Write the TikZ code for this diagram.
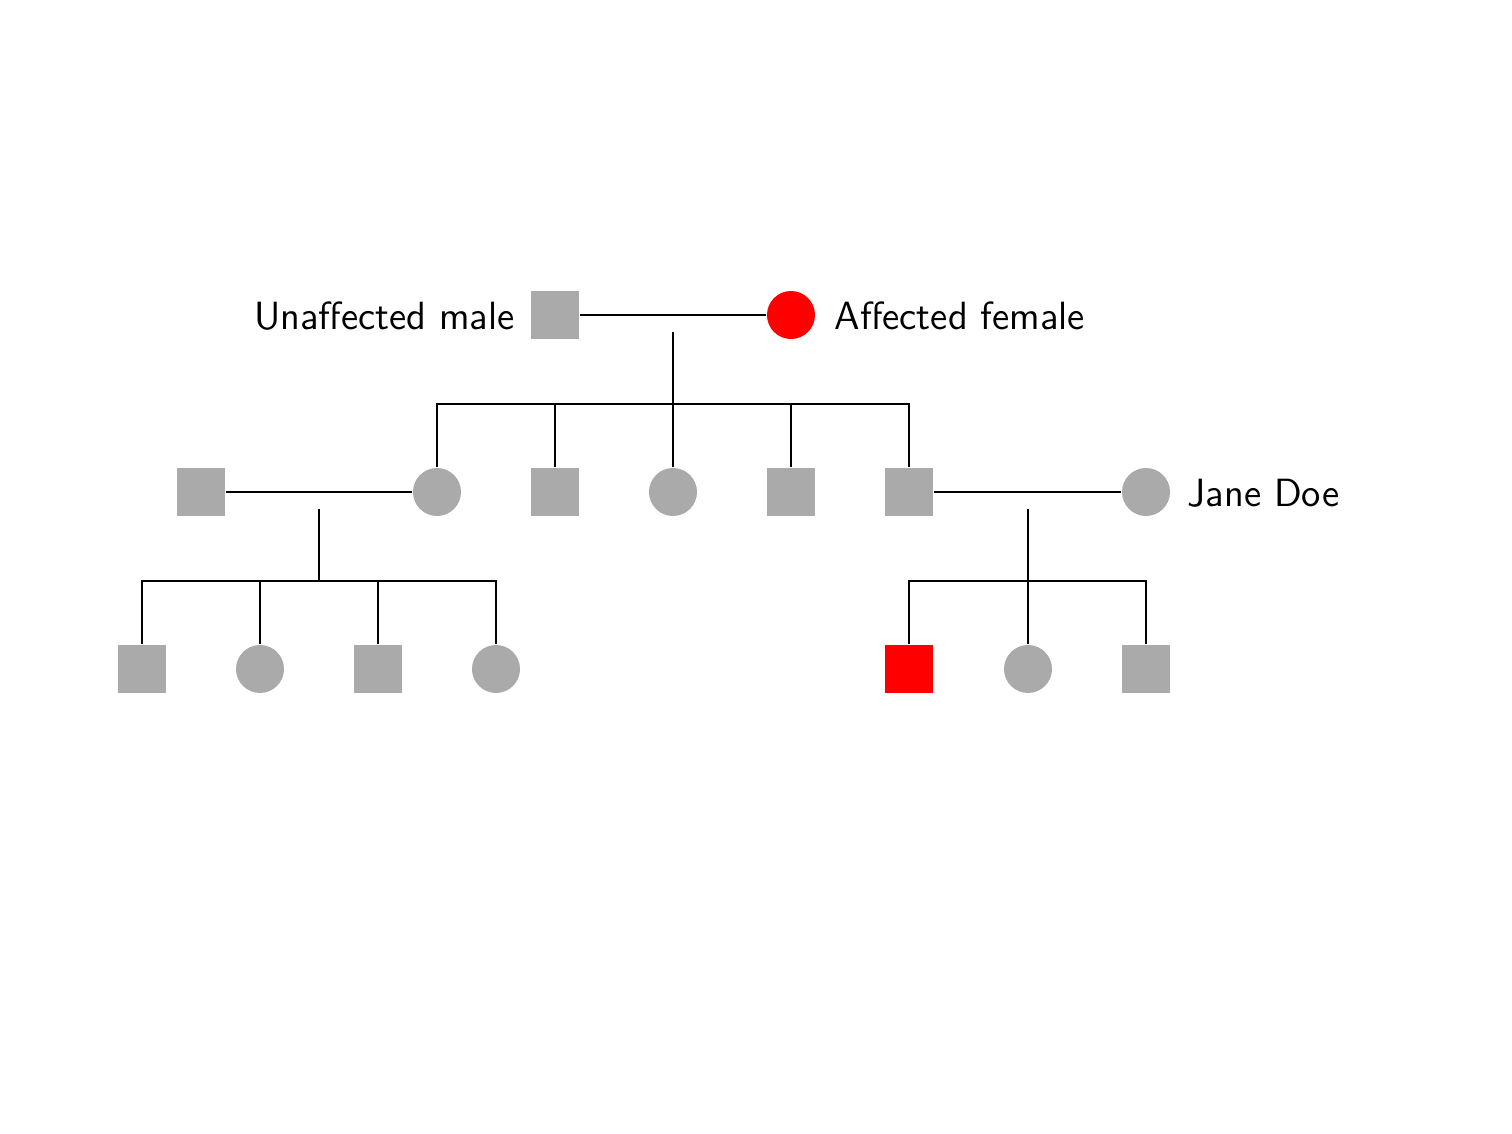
\documentclass[tikz,border=0pt]{standalone}
\usetikzlibrary{positioning}
\definecolor{unaff}{RGB}{170,170,170}
\definecolor{aff}{RGB}{255,0,0}
\tikzset{
  male/.style={rectangle, fill=unaff, minimum size=0.48cm, inner sep=0pt},
  female/.style={circle, fill=unaff, minimum size=0.48cm, inner sep=0pt},
  affected/.style={fill=aff},
  link/.style={line width=0.6pt, black},
  lbl/.style={inner sep=0pt, font=\sffamily\fontsize{11.2}{13.5}\selectfont}
}
\begin{document}
\begin{tikzpicture}[x=0.01cm, y=-0.01cm]
\useasboundingbox (0,0) rectangle (1512,1134);
% generation 1
\node[male] (gf) at (555,315) {};
\node[female, affected] (gm) at (791,315) {};
\node[lbl, anchor=east] (lgf) at (515,316) {Unaffected male};
\node[lbl, anchor=west] (lgm) at (834,316) {Affected female};
% generation 2
\node[male] (sp1) at (201,492) {};
\node[female] (c1) at (437,492) {};
\node[male] (c2) at (555,492) {};
\node[female] (c3) at (673,492) {};
\node[male] (c4) at (791,492) {};
\node[male] (c5) at (909,492) {};
\node[female] (jd) at (1146,492) {};
\node[lbl, anchor=west] (ljd) at (1187,493) {Jane Doe};
% generation 3 left
\node[male] (g1) at (142,669) {};
\node[female] (g2) at (260,669) {};
\node[male] (g3) at (378,669) {};
\node[female] (g4) at (496,669) {};
% generation 3 right
\node[male, affected] (h1) at (909,669) {};
\node[female] (h2) at (1028,669) {};
\node[male] (h3) at (1146,669) {};
% coordinates
\coordinate (d1) at (673,332);
\coordinate (s1) at (673,404);
\coordinate (d2) at (319,509);
\coordinate (s2) at (319,581);
\coordinate (d3) at (1028,509);
\coordinate (s3) at (1028,581);
% marriages
\draw[link] (gf) -- (gm);
\draw[link] (sp1) -- (c1);
\draw[link] (c5) -- (jd);
% descent
\draw[link] (d1) -- (s1);
\draw[link] (d2) -- (s2);
\draw[link] (d3) -- (s3);
% sibships
\draw[link] (c1.north) |- (s1) -| (c5.north);
\draw[link] (c2.north) -- (c2.north |- s1);
\draw[link] (c3.north) -- (c3.north |- s1);
\draw[link] (c4.north) -- (c4.north |- s1);
\draw[link] (g1.north) |- (s2) -| (g4.north);
\draw[link] (g2.north) -- (g2.north |- s2);
\draw[link] (g3.north) -- (g3.north |- s2);
\draw[link] (h1.north) |- (s3) -| (h3.north);
\draw[link] (h2.north) -- (h2.north |- s3);
\end{tikzpicture}
\end{document}
